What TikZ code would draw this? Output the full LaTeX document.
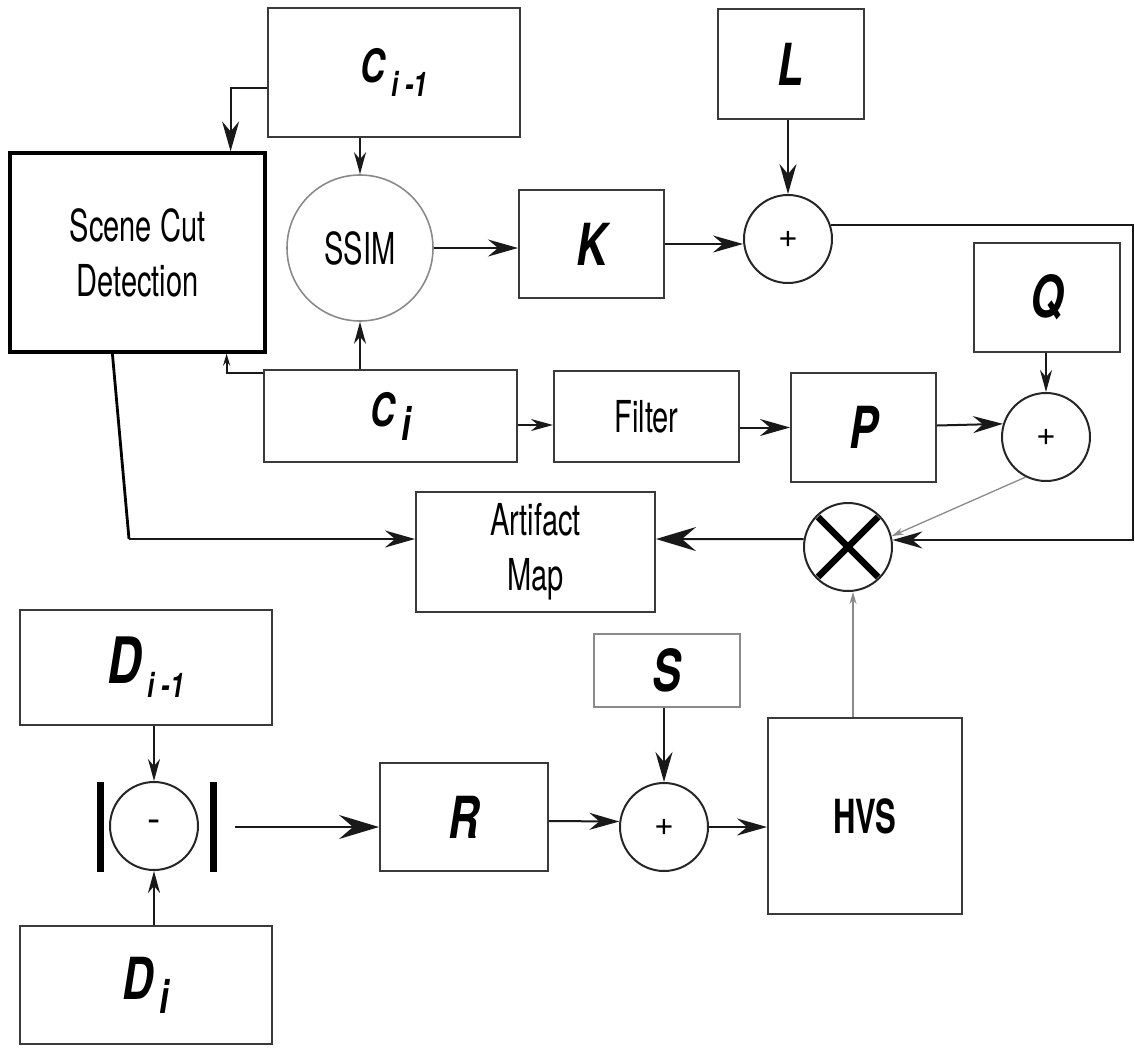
\documentclass[tikz,border=0pt]{standalone}
\usepackage{fontspec}
\usetikzlibrary{arrows.meta,calc}
% condensed faces for block texts and variable names
\newfontfamily\condtxt{TeX Gyre Heros}[FakeStretch=0.66]
\newfontfamily\condlab{TeX Gyre Heros}[FakeStretch=0.74]
\newfontfamily\signfont{TeX Gyre Heros}
\definecolor{boxline}{HTML}{3A3A3A}
\definecolor{lightline}{HTML}{8A8A8A}
% variable name with an index: main size, letter, index size, index text
\newcommand{\varsub}[4]{{\condlab\bfseries\itshape\fontsize{#1}{#1}\selectfont #2\hspace{6pt}\raisebox{-14pt}{\fontsize{#3}{#3}\selectfont #4}}}
\newcommand{\varletter}[1]{{\condlab\bfseries\itshape\fontsize{58}{58}\selectfont #1}}
\begin{document}
\begin{tikzpicture}[x=1pt,y=-1pt,
  box/.style={draw=boxline, line width=2pt, rectangle, inner sep=0pt},
  txt/.style={font=\condtxt\fontsize{44}{55}\selectfont, align=center},
  sum/.style={circle, draw=black!85, line width=2pt, minimum size=88pt, inner sep=0pt,
              font=\signfont\fontsize{34}{34}\selectfont},
  bar/.style={rectangle, fill=black, draw=none, minimum width=7pt, minimum height=90pt, inner sep=0pt},
  conn/.style={draw=black!90, line width=2pt},
  thinconn/.style={draw=lightline, line width=1.3pt},
  arbig/.style={-{Stealth[length=40pt,width=24pt,inset=14pt]}},
  armid/.style={-{Stealth[length=30pt,width=17pt,inset=10pt]}},
  arsmall/.style={-{Stealth[length=22pt,width=12pt,inset=7pt]}},
  artiny/.style={-{Stealth[length=12pt,width=7pt,inset=4pt]}}]
\useasboundingbox (0,0) rectangle (1135,1047);

% ---- blocks ----
\node[box, minimum width=252pt, minimum height=129pt] (cprev) at (394,72.5) {\varsub{46}{C}{34}{i -1}};
\node[box, draw=black, line width=3.2pt, minimum width=255pt, minimum height=199pt, txt] (scene) at (137.5,252.5) {Scene Cut\\Detection};
\node[circle, draw=lightline, line width=1.6pt, minimum size=146pt, inner sep=0pt, txt] (ssim) at (360,248) {SSIM};
\node[box, minimum width=145pt, minimum height=108pt] (K) at (591.5,244) {\varletter{K}};
\node[box, minimum width=146pt, minimum height=110pt] (L) at (791,64) {\varletter{L}};
\node[sum] (plus1) at (788,239) {+};
\node[box, minimum width=146pt, minimum height=109pt] (Q) at (1047,297.5) {\varletter{Q}};
\node[box, minimum width=253pt, minimum height=92pt] (ci) at (390.5,416) {\varsub{46}{C}{46}{i}};
\node[box, minimum width=185pt, minimum height=91pt, txt] (filter) at (646.5,416.5) {\raisebox{-9pt}{Filter}};
\node[box, minimum width=145pt, minimum height=109pt] (P) at (863.5,427.5) {\varletter{P}};
\node[sum] (plus2) at (1046,437) {+};
\node[box, minimum width=239pt, minimum height=120pt, txt] (artifact) at (535.5,552) {Artifact\\Map};
\node[sum] (mult) at (848,547) {};
\draw[line width=6.5pt, black] ($(mult.center)+(-30,-30)$) -- ($(mult.center)+(30,30)$);
\draw[line width=6.5pt, black] ($(mult.center)+(-30,30)$) -- ($(mult.center)+(30,-30)$);
\node[box, minimum width=252pt, minimum height=115pt] (dprev) at (146,667.5) {\varsub{64}{D}{34}{i -1}};
\node[sum, font=\signfont\fontsize{40}{40}\selectfont] (minus) at (154,826) {-};
\node[bar] (lbar) at (100,827) {};
\node[bar] (rbar) at (213,827) {};
\node[box, minimum width=252pt, minimum height=118pt] (di) at (146,985) {\varsub{58}{D}{46}{i}};
\node[box, minimum width=168pt, minimum height=108pt] (R) at (464,817) {\varletter{R}};
\node[box, draw=lightline, minimum width=146pt, minimum height=73pt] (S) at (667,670.5) {\varletter{S}};
\node[sum] (plus3) at (664,827) {+};
\node[box, minimum width=194pt, minimum height=196pt, font=\condtxt\bfseries\fontsize{47}{47}\selectfont] (hvs) at (865,816) {HVS};

% ---- helper points ----
\coordinate (redge) at (1133,0);
\coordinate (scbend) at (129,539);

% ---- connectors ----
\draw[conn, armid] ([yshift=-15pt]cprev.west) -| ([xshift=-36pt]scene.north east);
\draw[conn, arsmall] (ssim.north |- cprev.south) -- (ssim.north);
\draw[conn, armid] (ssim.east) -- (K.west |- ssim.east);
\draw[conn, armid] (L.south -| plus1.north) -- (plus1.north);
\draw[conn, armid] (K.east) -- (K.east -| plus1.west);
\draw[conn, armid] (plus1.18) -- (plus1.18 -| redge) |- (mult.9);
\draw[conn, arsmall] (ssim.south |- ci.north) -- (ssim.south);
\draw[conn, artiny] ([yshift=-4pt]ci.north west) -| ([xshift=-40pt]scene.south east);
\draw[conn, arsmall] ([yshift=-9pt]ci.east) -- ([yshift=-9pt]ci.east -| filter.west);
\draw[conn, armid] (filter.east |- P.west) -- (P.west);
\draw[conn, armid] ([yshift=2pt]P.east) -- (plus2.163);
\draw[conn, arsmall] (Q.south -| plus2.north) -- (plus2.north);
\draw[thinconn, artiny] (plus2.-117) -- (mult.14);
\draw[conn, arbig] (mult.170) -- ([yshift=13pt]artifact.east);
\draw[black, line width=2.8pt] ([xshift=104pt]scene.south west) -- (scbend);
\draw[conn, armid] (scbend) -- (scbend -| artifact.west);
\draw[thinconn, artiny] ([xshift=5pt]mult.south |- hvs.north) -- ([xshift=5pt]mult.south);
\draw[conn, arsmall] (minus.north |- dprev.south) -- (minus.north);
\draw[conn, arsmall] (minus.south |- di.north) -- (minus.south);
\draw[conn, arbig] ([xshift=18pt]rbar.east) -- (rbar.east -| R.west);
\draw[conn, armid] ([yshift=-4pt]R.east) -- (plus3.173);
\draw[conn, armid] (S.south -| plus3.north) -- (plus3.north);
\draw[conn, armid] (plus3.east) -- (plus3.east -| hvs.west);
\end{tikzpicture}
\end{document}
